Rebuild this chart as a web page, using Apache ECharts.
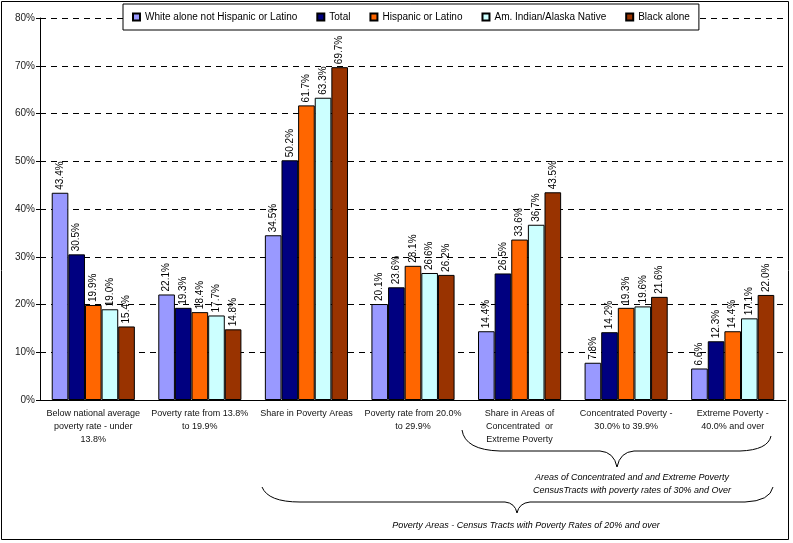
<!DOCTYPE html>
<html><head><meta charset="utf-8">
<script src="https://cdn.jsdelivr.net/npm/echarts@6/dist/echarts.min.js"></script>
<style>html,body{margin:0;padding:0;background:#fff}#c{width:793px;height:543px}</style>
</head><body><div id="c"></div>
<script>
const categories = [
  "Below national average\npoverty rate - under\n13.8%",
  "Poverty rate from 13.8%\nto 19.9%",
  "Share in Poverty Areas",
  "Poverty rate from 20.0%\nto 29.9%",
  "Share in Areas of\nConcentrated  or\nExtreme Poverty",
  "Concentrated Poverty -\n30.0% to 39.9%",
  "Extreme Poverty -\n40.0% and over"
];
const seriesNames = ["White alone not Hispanic or Latino", "Total", "Hispanic or Latino", "Am. Indian/Alaska Native", "Black alone"];
const whiteAlone = [43.4, 22.1, 34.5, 20.1, 14.4, 7.8, 6.6];
const total = [30.5, 19.3, 50.2, 23.6, 26.5, 14.2, 12.3];
const hispanic = [19.9, 18.4, 61.7, 28.1, 33.6, 19.3, 14.4];
const amIndian = [19.0, 17.7, 63.3, 26.6, 36.7, 19.6, 17.1];
const black = [15.4, 14.8, 69.7, 26.2, 43.5, 21.6, 22.0];
const yTicks = [0, 10, 20, 30, 40, 50, 60, 70, 80];
const braceText1 = ["Areas of Concentrated and and Extreme Poverty", "CensusTracts with poverty rates of 30% and Over"];
const braceText2 = "Poverty Areas - Census Tracts with Poverty Rates of 20% and over";

const colors = ["#9999FF", "#000080", "#FF6600", "#CCFFFF", "#993300"];
const values = [whiteAlone, total, hispanic, amIndian, black];
const FONT = "'Liberation Sans', Arial, sans-serif";

// decorative brace pieces: [x1,y1,cpx,cpy,x2,y2] quadratic, or [x1,y1,x2,y2] line
function brace(segs) {
  return segs.map(s => s.length === 6
    ? {type: 'bezierCurve', silent: true, shape: {x1: s[0], y1: s[1], cpx1: s[2], cpy1: s[3], x2: s[4], y2: s[5]}, style: {fill: null, stroke: '#000', lineWidth: 1}}
    : {type: 'line', silent: true, shape: {x1: s[0], y1: s[1], x2: s[2], y2: s[3]}, style: {stroke: '#000', lineWidth: 1}});
}
const brace1 = brace([
  [462, 430, 465, 450, 500, 451], [500, 451, 600, 451], [600, 451, 614, 452, 617, 467],
  [617, 467, 620, 452, 634, 451], [634, 451, 740, 451], [740, 451, 768, 450, 771, 436]
]);
const brace2 = brace([
  [262, 487, 268, 502, 300, 502], [300, 502, 505, 502], [505, 502, 515, 503, 517, 513],
  [517, 513, 519, 503, 530, 502], [530, 502, 745, 502], [745, 502, 770, 501, 773, 487]
]);

const chart = echarts.init(document.getElementById('c'), null, {renderer: 'canvas'});
chart.setOption({
  animation: false,
  backgroundColor: '#fff',
  textStyle: {fontFamily: FONT},
  grid: {left: 40, right: 7, top: 18, bottom: 143, containLabel: false},
  legend: {
    left: 123, top: 4,
    padding: [8, 9, 8, 9],
    backgroundColor: '#fff', borderColor: '#000', borderWidth: 1,
    itemWidth: 7, itemHeight: 7, itemGap: 19,
    textStyle: {fontSize: 10, color: '#000', fontFamily: FONT},
    data: seriesNames.map(n => ({name: n, icon: 'rect'}))
  },
  xAxis: {
    type: 'category', data: categories,
    axisLine: {lineStyle: {color: '#000', width: 1}},
    axisTick: {show: false},
    axisLabel: {fontSize: 9, color: '#111', lineHeight: 13, margin: 7, interval: 0, align: 'center'}
  },
  yAxis: {
    type: 'value', min: yTicks[0], max: yTicks[yTicks.length - 1], interval: 10,
    axisLine: {show: true, lineStyle: {color: '#000', width: 1}},
    axisTick: {show: true, length: 4, lineStyle: {color: '#000'}},
    axisLabel: {formatter: '{value}%', fontSize: 10, color: '#222', margin: 5},
    splitLine: {show: true, lineStyle: {color: '#000', type: [6, 5], width: 1}}
  },
  series: seriesNames.map((name, i) => ({
    name, type: 'bar', data: values[i],
    barGap: '0%', barCategoryGap: '22%',
    itemStyle: {color: colors[i], borderColor: '#000', borderWidth: 1},
    label: {
      show: true, position: 'top', rotate: 90, align: 'left', verticalAlign: 'middle',
      distance: 3, fontSize: 10, color: '#000',
      formatter: p => p.value.toFixed(1) + '%'
    }
  })),
  graphic: [
    {type: 'rect', shape: {x: 1.5, y: 1.5, width: 787, height: 538}, style: {fill: null, stroke: '#000', lineWidth: 1}, silent: true, z: 100},
    ...brace1, ...brace2,
    {type: 'text', x: 632, y: 477, style: {text: braceText1[0], font: 'italic 9px ' + FONT, fill: '#000', textAlign: 'center', textVerticalAlign: 'middle'}, silent: true},
    {type: 'text', x: 632, y: 490, style: {text: braceText1[1], font: 'italic 9px ' + FONT, fill: '#000', textAlign: 'center', textVerticalAlign: 'middle'}, silent: true},
    {type: 'text', x: 526, y: 525, style: {text: braceText2, font: 'italic 9px ' + FONT, fill: '#000', textAlign: 'center', textVerticalAlign: 'middle'}, silent: true}
  ]
});
</script>
</body></html>
